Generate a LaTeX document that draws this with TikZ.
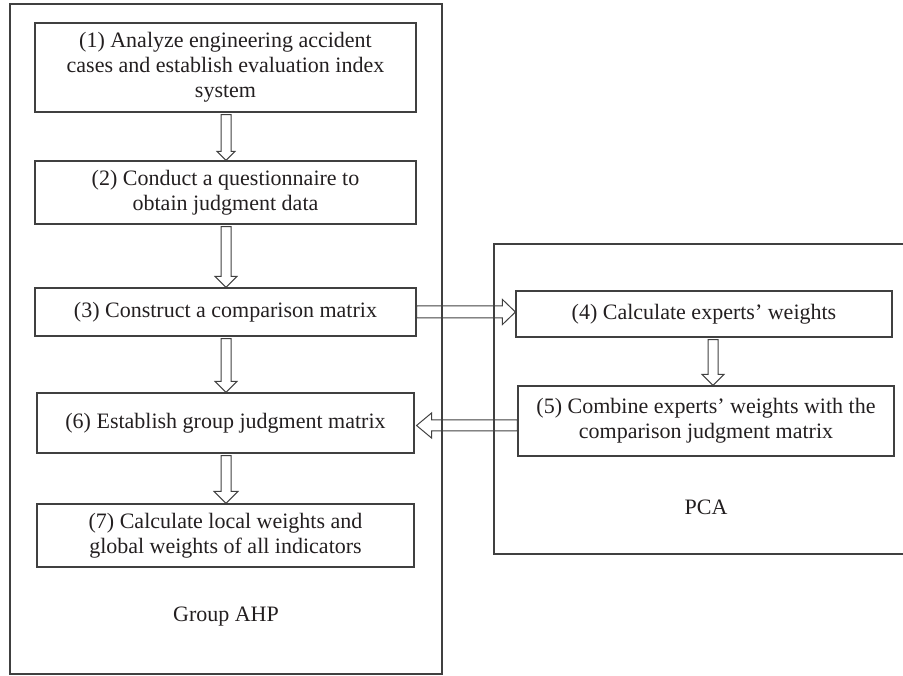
\documentclass[tikz,border=0pt]{standalone}
\usepackage{fontspec}
\setmainfont{Liberation Serif}
\usetikzlibrary{calc}
\definecolor{ln}{HTML}{404040}
\definecolor{tx}{HTML}{231F20}
\tikzset{
  box/.style={draw=ln, line width=1.1pt, text=tx, align=center, inner sep=0pt,
    font=\fontsize{22}{25}\selectfont},
  frame/.style={draw=ln, line width=1.1pt},
  blk/.style={draw=ln, line width=1pt, line join=miter},
  lbl/.style={text=tx, font=\fontsize{22}{25}\selectfont}
}
% vertical block arrow: from node #1 (south) to node #2 (north), x offset #3, head half width #4, head length #5
\newcommand\blkdown[5]{%
  \draw[blk] let \p1=(#1.south), \p2=(#2.north) in
    (\x2+#3pt-5pt,\y1-2pt) -- (\x2+#3pt-5pt,\y2+#5pt) -- (\x2+#3pt-#4pt,\y2+#5pt) --
    (\x2+#3pt,\y2) -- (\x2+#3pt+#4pt,\y2+#5pt) -- (\x2+#3pt+5pt,\y2+#5pt) --
    (\x2+#3pt+5pt,\y1-2pt) -- cycle;}
\begin{document}
\begin{tikzpicture}[x=1pt,y=-1pt]
\useasboundingbox (0,0) rectangle (903,676);
% frames
\draw[frame] (10,4) rectangle (442,674);
\draw[frame] (903,244) -- (494,244) -- (494,554) -- (903,554);
% boxes
\node[box, minimum width=381, minimum height=89] (n1) at (225.5,67.5)
  {(1) Analyze engineering accident\\cases and establish evaluation index\\system};
\node[box, minimum width=381, minimum height=63] (n2) at (225.5,192.5)
  {(2) Conduct a questionnaire to\\obtain judgment data};
\node[box, minimum width=381, minimum height=48] (n3) at (225.5,312)
  {(3) Construct a comparison matrix};
\node[box, minimum width=377, minimum height=60] (n6) at (225.5,423)
  {(6) Establish group judgment matrix};
\node[box, minimum width=377, minimum height=63] (n7) at (225.5,535.5)
  {(7) Calculate local weights and\\global weights of all indicators};
\node[box, minimum width=376, minimum height=46] (n4) at (704,314)
  {(4) Calculate experts' weights};
\node[box, minimum width=376, minimum height=70] (n5) at (706,421)
  {(5) Combine experts' weights with the\\comparison judgment matrix};
% labels
\node[lbl] (gahp) at (226,617) {Group AHP};
\node[lbl] (pca) at (706,507) {PCA};
% vertical arrows
\blkdown{n1}{n2}{0.5}{9}{9}
\blkdown{n2}{n3}{0.5}{11}{11}
\blkdown{n3}{n6}{0.5}{11}{11}
\blkdown{n6}{n7}{0.5}{12}{12}
\blkdown{n4}{n5}{7}{11}{11}
% horizontal arrow 3 -> 4
\draw[blk] let \p1=(n3.east), \p2=(n4.west) in
  (\x1,\y1+6pt) -- (\x2-13pt,\y1+6pt) -- (\x2-13pt,\y1+12.5pt) -- (\x2,\y1) --
  (\x2-13pt,\y1-12.5pt) -- (\x2-13pt,\y1-6pt) -- (\x1,\y1-6pt) -- cycle;
% horizontal arrow 5 -> 6
\draw[blk] let \p1=(n5.west), \p2=(n6.east) in
  (\x1,\y2-8pt) -- (\x2+17pt,\y2-8pt) -- (\x2+17pt,\y2-15pt) -- (\x2+2pt,\y2-2.5pt) --
  (\x2+17pt,\y2+10pt) -- (\x2+17pt,\y2+3pt) -- (\x1,\y2+3pt) -- cycle;
\end{tikzpicture}
\end{document}
